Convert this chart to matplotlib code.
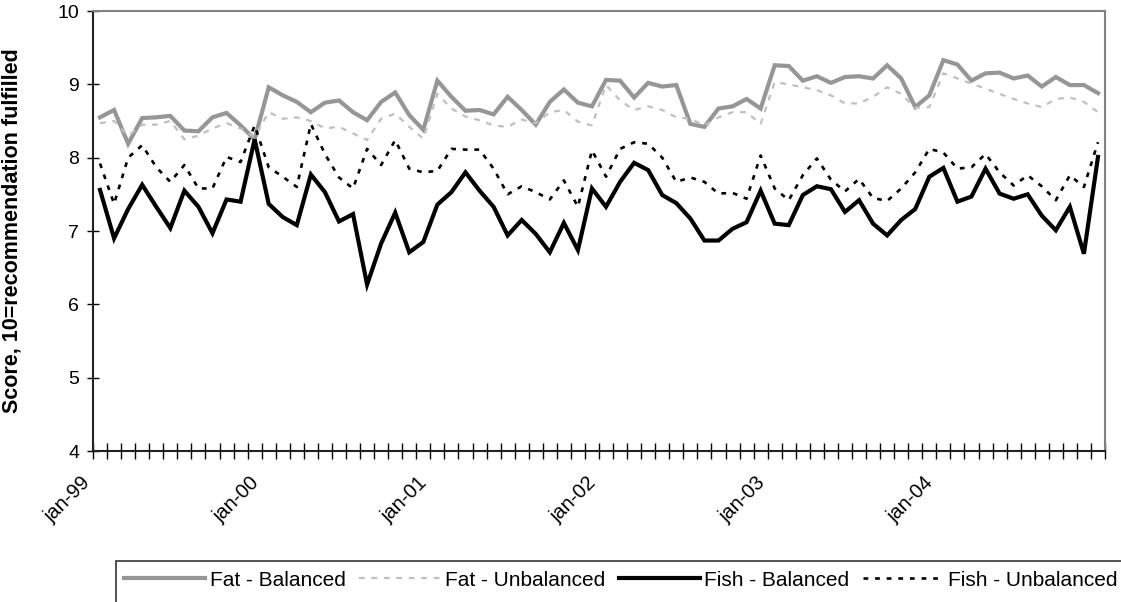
import matplotlib
matplotlib.use("Agg")
import matplotlib.pyplot as plt
import matplotlib.transforms as mtransforms
from matplotlib.patches import Rectangle
import numpy as np

plt.rcParams['font.family'] = ['Liberation Sans', 'DejaVu Sans']

# ---- data (monthly, jan-99 .. dec-04) ----
tick_labels = ["jan-99", "jan-00", "jan-01", "jan-02", "jan-03", "jan-04"]
series_names = ["Fat - Balanced", "Fat - Unbalanced", "Fish - Balanced", "Fish - Unbalanced"]

fat_balanced = [
    8.55, 8.65, 8.19, 8.54, 8.55, 8.57, 8.37, 8.36, 8.55, 8.61, 8.44, 8.25,
    8.96, 8.85, 8.76, 8.62, 8.75, 8.78, 8.62, 8.51, 8.76, 8.89, 8.58, 8.38,
    9.05, 8.83, 8.64, 8.65, 8.59, 8.83, 8.65, 8.45, 8.76, 8.93, 8.75, 8.70,
    9.06, 9.05, 8.82, 9.02, 8.97, 8.99, 8.46, 8.42, 8.67, 8.70, 8.80, 8.67,
    9.26, 9.25, 9.05, 9.11, 9.02, 9.10, 9.11, 9.08, 9.26, 9.08, 8.69, 8.85,
    9.33, 9.27, 9.05, 9.15, 9.16, 9.08, 9.12, 8.97, 9.10, 8.99, 8.99, 8.88]

fat_unbalanced = [
    8.47, 8.50, 8.30, 8.45, 8.45, 8.50, 8.25, 8.30, 8.40, 8.47, 8.40, 8.28,
    8.62, 8.53, 8.55, 8.50, 8.40, 8.42, 8.33, 8.24, 8.53, 8.60, 8.42, 8.26,
    8.87, 8.67, 8.56, 8.51, 8.44, 8.42, 8.52, 8.47, 8.62, 8.65, 8.49, 8.44,
    8.99, 8.78, 8.65, 8.70, 8.65, 8.55, 8.53, 8.44, 8.55, 8.62, 8.62, 8.46,
    9.03, 9.00, 8.96, 8.92, 8.85, 8.74, 8.74, 8.83, 8.96, 8.87, 8.68, 8.69,
    9.15, 9.08, 9.01, 8.94, 8.87, 8.80, 8.74, 8.69, 8.80, 8.82, 8.76, 8.62]

fish_balanced = [
    7.56, 6.90, 7.30, 7.63, 7.33, 7.04, 7.55, 7.33, 6.97, 7.43, 7.40, 8.25,
    7.37, 7.19, 7.08, 7.77, 7.53, 7.13, 7.23, 6.27, 6.83, 7.25, 6.71, 6.85,
    7.36, 7.53, 7.80, 7.55, 7.33, 6.94, 7.15, 6.96, 6.71, 7.11, 6.74, 7.58,
    7.33, 7.67, 7.93, 7.83, 7.49, 7.38, 7.17, 6.87, 6.87, 7.03, 7.12, 7.55,
    7.10, 7.08, 7.49, 7.61, 7.57, 7.26, 7.42, 7.10, 6.94, 7.15, 7.30, 7.74,
    7.86, 7.40, 7.47, 7.85, 7.51, 7.44, 7.50, 7.21, 7.01, 7.33, 6.69, 8.01]

fish_unbalanced = [
    7.92, 7.37, 8.00, 8.17, 7.87, 7.67, 7.90, 7.58, 7.58, 8.01, 7.94, 8.44,
    7.87, 7.74, 7.60, 8.46, 8.05, 7.73, 7.58, 8.12, 7.90, 8.24, 7.85, 7.80,
    7.82, 8.12, 8.11, 8.11, 7.85, 7.50, 7.61, 7.53, 7.43, 7.69, 7.33, 8.10,
    7.74, 8.12, 8.21, 8.19, 8.00, 7.67, 7.73, 7.67, 7.51, 7.52, 7.44, 8.03,
    7.58, 7.42, 7.76, 7.99, 7.70, 7.54, 7.71, 7.45, 7.41, 7.58, 7.80, 8.12,
    8.07, 7.85, 7.87, 8.05, 7.80, 7.62, 7.76, 7.61, 7.42, 7.76, 7.60, 8.21]

W, H = 1121, 602
fig = plt.figure(figsize=(W / 100, H / 100), dpi=100)
ax = fig.add_axes([93 / W, 1 - 451 / H, 1012 / W, 440 / H])

x = np.arange(len(fat_balanced))
l1, = ax.plot(x, fat_balanced, color='#969696', lw=3.0, solid_joinstyle='miter', label=series_names[0])
l2, = ax.plot(x, fat_unbalanced, color='#c0c0c0', lw=1.6, dashes=(2.6, 3.0), label=series_names[1])
l3, = ax.plot(x, fish_balanced, color='black', lw=3.0, solid_joinstyle='miter', label=series_names[2])
l4, = ax.plot(x, fish_unbalanced, color='black', lw=1.9, dashes=(1.8, 2.6), label=series_names[3])

ax.set_xlim(-0.5, len(x) - 0.5)
ax.set_ylim(4, 10)
ax.set_yticks(np.arange(4, 11, 1))
ax.tick_params(axis='y', direction='inout', length=9, width=1, labelsize=14, pad=5.5, colors='black')

# x axis: crossing marks between categories, labels every 12 months
ax.set_xticks(np.arange(-0.5, len(x), 1.0), minor=True)
ax.set_xticks(np.arange(0, len(x), 12))
ax.set_xticklabels(tick_labels, rotation=45, ha='right', va='top')
ax.tick_params(axis='x', which='minor', direction='inout', length=12, width=1, color='black')
ax.tick_params(axis='x', which='major', length=0, labelsize=14.5, pad=16)
offset = mtransforms.ScaledTranslation(-6 / 100, 0, fig.dpi_scale_trans)
for lab in ax.get_xticklabels():
    lab.set_transform(lab.get_transform() + offset)

for side in ['top', 'right']:
    ax.spines[side].set_color('#808080')
    ax.spines[side].set_linewidth(1.5)
for side in ['left', 'bottom']:
    ax.spines[side].set_color('#222222')
    ax.spines[side].set_linewidth(1.5)

fig.text(12 / W, 1 - 231 / H, "Score, 10=recommendation fulfilled", rotation=90,
         ha='center', va='center', fontsize=15.5, fontweight='bold')

# legend box (runs off the figure at right/bottom like the reference)
fig.patches.append(Rectangle((116 / W, -0.05), 1.2, (1 - 561 / H) + 0.05, transform=fig.transFigure,
                             fill=False, edgecolor='#333333', lw=1.2))
leg = fig.legend(handles=[l1, l2, l3, l4], loc='center left',
                 bbox_to_anchor=(120 / W, 1 - 580 / H), ncol=4, frameon=False,
                 fontsize=15, handlelength=3.9, handletextpad=0.2, columnspacing=0.66,
                 borderaxespad=0, borderpad=0.2)

fig.savefig("out.png", dpi=100)
